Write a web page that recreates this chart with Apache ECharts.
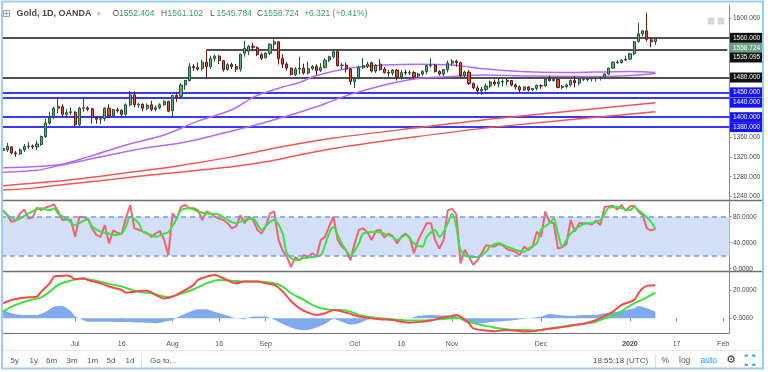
<!DOCTYPE html>
<html><head><meta charset="utf-8">
<script src="https://cdn.jsdelivr.net/npm/echarts@6/dist/echarts.min.js"></script>
<style>html,body{margin:0;padding:0;background:#fff}#c{width:768px;height:372px}</style>
</head><body><div id="c"></div>
<script>
// ---------- categories (trading days, OANDA XAU/USD daily) ----------
const firstDay = '2019-06-06', lastDay = '2020-02-04';
const holidays = ['2019-12-25', '2020-01-01'];
const dates = [];
for (let d = new Date(firstDay + 'T00:00:00Z'); d <= new Date(lastDay + 'T00:00:00Z'); d.setUTCDate(d.getUTCDate() + 1)) {
  const wd = d.getUTCDay(), s = d.toISOString().slice(0, 10);
  if (wd !== 0 && wd !== 6 && holidays.indexOf(s) < 0) dates.push(s);
}
const N = dates.length;

// ---------- time axis labels ----------
const tickDates  = ['2019-07-01','2019-07-16','2019-08-01','2019-08-16','2019-09-02','2019-10-01','2019-10-16','2019-11-01','2019-12-02','2020-01-02','2020-01-17','2020-02-03'];
const tickLabels = ['Jul','16','Aug','16','Sep','Oct','16','Nov','Dec','2020','17','Feb'];

// ---------- price candles [open, high, low, close] ----------
const ohlc = [
[1333,1346,1329,1337],[1334,1348,1330,1341],[1340,1342,1325,1328],[1328,1332,1320,1326],[1326,1337,1324,1334],
[1334,1346,1330,1341],[1341,1350,1336,1342],[1342,1345,1336,1340],[1340,1353,1334,1346],[1345,1363,1342,1361],
[1361,1397,1358,1388],[1388,1411,1385,1400],[1400,1421,1396,1418],[1418,1439,1408,1422],[1421,1426,1402,1406],
[1406,1416,1400,1409],[1409,1420,1404,1411],[1410,1412,1382,1385],[1385,1421,1382,1418],[1418,1438,1411,1419],
[1419,1422,1412,1416],[1417,1419,1387,1399],[1399,1402,1387,1396],[1396,1401,1386,1397],[1397,1420,1392,1418],
[1418,1426,1399,1403],[1403,1417,1402,1415],[1415,1419,1409,1413],[1414,1416,1401,1406],[1406,1428,1403,1425],
[1425,1453,1422,1445],[1445,1452,1420,1425],[1425,1429,1419,1426],[1426,1428,1412,1418],[1418,1428,1414,1424],
[1425,1433,1412,1416],[1416,1424,1412,1419],[1419,1428,1416,1425],[1425,1434,1423,1432],[1432,1433,1410,1412],
[1413,1445,1400,1444],[1444,1449,1431,1441],[1442,1469,1439,1465],[1465,1475,1455,1474],[1474,1509,1472,1502],
[1502,1507,1493,1500],[1500,1510,1494,1497],[1498,1516,1494,1511],[1511,1535.1,1480,1502],[1502,1524,1497,1518],
[1518,1526,1512,1523],[1523,1525,1507,1514],[1514,1515,1492,1496],[1496,1509,1494,1506],[1506,1510,1497,1502],
[1502,1507,1491,1497],[1497,1528,1492,1527],[1529,1554,1522,1539],[1533,1546,1525,1543],[1543,1550,1533,1541],
[1540,1543,1523,1526],[1526,1530,1515,1519],[1520,1531,1518,1529],[1529,1549,1525,1547],[1547,1557,1535,1552],
[1552,1553,1506,1518],[1518,1527,1499,1507],[1507,1511,1494,1499],[1499,1500,1484,1486],[1486,1501,1483,1497],
[1497,1522,1486,1499],[1499,1508,1486,1489],[1489,1512,1486,1498],[1498,1505,1495,1502],[1502,1507,1485,1494],
[1494,1509,1491,1500],[1500,1519,1498,1515],[1515,1524,1511,1522],[1522,1535,1518,1532],[1532,1535,1502,1504],
[1504,1509,1497,1505],[1505,1510,1490,1497],[1497,1499,1465,1472],[1472,1480,1459,1479],[1479,1503,1476,1500],
[1500,1519,1497,1504],[1503,1512,1499,1507],[1510,1512,1490,1493],[1493,1507,1489,1505],[1507,1517,1494,1496],
[1497,1501,1488,1490],[1490,1495,1482,1489],[1489,1497,1484,1495],[1495,1497,1474,1481],[1481,1495,1476,1490],
[1490,1496,1485,1489],[1489,1495,1485,1490],[1490,1493,1478,1482],[1483,1490,1480,1487],[1487,1495,1483,1492],
[1492,1506,1487,1504],[1504,1519,1500,1505],[1505,1507,1490,1492],[1492,1495,1484,1487],[1487,1497,1483,1496],
[1496,1514,1490,1509],[1509,1517,1504,1513],[1513,1516,1502,1510],[1510,1512,1480,1484],[1484,1494,1480,1491],
[1491,1495,1465,1468],[1468,1470,1456,1459],[1459,1464,1446,1453],[1453,1461,1445,1456],[1456,1468,1452,1463],
[1463,1474,1458,1471],[1471,1476,1463,1467],[1468,1478,1460,1471],[1471,1476,1462,1472],[1472,1478,1464,1474],
[1474,1475,1462,1465],[1465,1468,1456,1461],[1461,1464,1450,1455],[1455,1462,1453,1461],[1461,1463,1452,1455],
[1455,1459,1453,1458],[1458,1466,1454,1464],[1464,1466,1457,1463],[1463,1479,1461,1477],[1477,1484,1472,1474],
[1474,1481,1472,1476],[1476,1477,1458,1460],[1460,1465,1456,1462],[1462,1468,1458,1465],[1465,1476,1462,1474],
[1474,1483,1460,1469],[1469,1479,1464,1476],[1476,1480,1473,1476],[1476,1480,1472,1477],[1477,1480,1472,1478],
[1478,1481,1472,1478],[1478,1482,1474,1480],[1480,1488,1477,1487],[1487,1500,1485,1499],[1499,1512,1497,1511],
[1511,1515,1508,1510],[1510,1517,1508,1515],[1515,1524,1514,1517],[1517,1530,1516,1528],[1528,1554,1525,1552],
[1553,1590,1550,1568],[1568,1576,1563,1574],[1574,1611,1553,1557],[1556,1560,1541,1552],[1552.404,1561.102,1545.784,1558.724]
];

// ---------- moving averages on price, [barIndex, value] read at sample bars ----------
const maPurpleA = [[0,1298],[13,1304],[20,1320],[29,1344],[38,1364],[46,1392],[54,1415],[59,1440],[62,1450],[66,1461],[70,1470],[74,1484],[82,1499],[90,1505],[98,1507],[106,1505],[114,1497],[122,1492],[132,1490],[140,1491],[148,1492],[154,1490]];
const maPurpleB = [[0,1289],[8,1293],[13,1302],[31,1334],[43,1350],[59,1383],[62,1390],[66,1400],[70,1410],[74,1421],[78,1434],[82,1446],[90,1465],[98,1478],[106,1482],[113,1485],[124,1483],[136,1482],[146,1483],[154,1488]];
const maRedA = [[0,1262],[7,1267],[15,1273],[23,1281],[31,1290],[40,1300],[54,1320],[62,1334],[70,1347],[78,1358],[97,1378],[117,1398],[154,1429]];
const maRedB = [[0,1253],[7,1257],[15,1265],[23,1272],[31,1280],[39,1287],[54,1300],[62,1310],[70,1324],[78,1337],[97,1360],[117,1381],[154,1411]];

// ---------- horizontal levels ----------
const blackLevels = [1560, 1480];
const blueLevels = [1450, 1440, 1400, 1380];
const rayStart = '2019-08-13', rayLevel = 1535.095;
const priceTicks = [1600, 1360, 1320, 1280, 1240];
const tagValues = [1560, 1558.724, 1535.095, 1480, 1450, 1440, 1400, 1380];

// ---------- RSI pane ----------
const rsi = [
90,82,72,74,85,91,77,79,94,90, 94,96,99,88,75,76,75,49,80,79,
77,62,52,49,67,39,59,55,54,78, 98,62,60,57,55,49,54,58,45,21,
85,77,95,98,93,93,90,75,88,85, 80,77,75,70,62,65,82,70,80,75,
60,54,65,85,88,45,28,18,3,18, 13,21,18,24,18,44,49,65,80,44,
34,28,13,39,60,62,56,44,58,60, 48,54,50,39,49,54,48,24,44,57,
70,70,44,31,44,90,92,84,8,29, 18,6,13,24,36,35,34,38,36,30,
28,26,21,34,29,34,57,49,88,72, 70,31,33,38,75,57,70,70,70,68,
74,67,95,96,97,91,98,89,96,97, 88,82,62,59,61];
const rsiMA = [[0,88],[2,78],[3,75],[6,85],[9,93],[11,90],[12,93],[13,85],[15,77],[17,67],[18,70],[20,76],[21,65],[23,57],[25,54],[26,52],[28,54],[29,65],[30,80],[32,70],[33,57],[35,52],[36,49],[38,54],[39,56],[41,77],[42,90],[44,93],[46,88],[48,85],[51,83],[53,75],[55,70],[57,75],[59,77],[61,60],[63,72],[64,75],[66,54],[67,24],[69,13],[71,16],[73,18],[75,21],[76,36],[77,55],[78,64],[79,52],[80,38],[81,28],[82,20],[84,39],[85,54],[88,57],[90,54],[92,49],[93,44],[95,52],[97,39],[99,34],[100,49],[102,59],[103,49],[105,70],[106,85],[107,65],[108,29],[110,18],[112,18],[114,26],[115,34],[117,39],[119,34],[121,29],[123,26],[124,31],[126,39],[127,60],[129,70],[130,77],[131,54],[132,34],[133,44],[134,54],[136,65],[138,70],[139,70],[141,75],[142,84],[143,94],[145,95],[146,93],[148,90],[149,95],[150,90],[151,85],[153,72],[154,61]];
const rsiTicks = [0, 40, 80];
const rsiBand = [20, 80];

// ---------- MACD pane ----------
const macdLine = [[0,10.6],[2,13],[4,14.1],[6,14.8],[8,15.3],[9,18.8],[11,24.7],[12,29.4],[13,29.9],[15,30.2],[16,29.4],[17,27.6],[19,28.3],[20,27.1],[23,24.7],[25,22.4],[28,20],[29,18.1],[31,18.8],[33,19.5],[34,19.5],[36,16.5],[38,14],[40,15.3],[43,20],[45,23.6],[46,27.1],[48,29.4],[50,30.6],[52,28.3],[55,24.7],[57,25.9],[60,25.9],[62,24.7],[64,23.6],[66,19],[68,12],[70,7],[72,4],[74,2.4],[76,3.5],[78,5.9],[80,4.7],[82,3.1],[84,1.2],[87,0],[89,-0.7],[92,-1.2],[94,-2.4],[96,-3.1],[99,-2.4],[101,-1.6],[103,0],[106,1.7],[107,2.4],[108,1.2],[110,-3.5],[111,-7.1],[114,-8.7],[116,-9.2],[119,-8.2],[121,-8.7],[123,-9.4],[126,-8.7],[128,-7.8],[130,-7.1],[133,-5.9],[135,-4.7],[138,-3.1],[140,-1.2],[142,1.7],[144,4.7],[146,9.4],[149,13],[150,17.7],[151,21.2],[152,22.9],[154,23.3]];
const signalLine = [[0,4.7],[2,8.2],[4,10.6],[6,12.5],[9,14.8],[11,18.8],[13,23.6],[16,26.6],[18,28],[20,27.6],[23,25.9],[25,24.3],[28,22.4],[30,20.5],[32,18.8],[35,17.7],[37,16],[39,15],[41,16.5],[45,20.5],[48,24.7],[51,27.1],[54,26.6],[57,25.9],[60,25.9],[64,24.7],[66,22.4],[68,17.7],[71,13],[73,9.4],[75,7.1],[78,5.9],[80,5.9],[82,4.7],[84,2.4],[87,0.7],[89,0],[92,-0.7],[94,-1.2],[96,-1.6],[99,-1.6],[101,-1.2],[103,-0.7],[106,0],[108,0],[110,-2.4],[113,-4.7],[115,-5.9],[117,-7.1],[119,-7.8],[121,-8.2],[123,-8.2],[126,-8.7],[128,-7.8],[131,-6.4],[133,-5.4],[135,-4.7],[138,-3.5],[140,-2.4],[142,0],[145,3.1],[147,7.1],[149,10.6],[152,14.8],[154,18.1]];
const macdHist = [[0,5.9],[2,3.5],[4,2.4],[8,2.4],[10,4.5],[12,8.2],[14,8.7],[16,5],[17,1.5],[18,0],[20,-2.4],[24,-2.4],[28,-2.6],[32,-3],[36,-3.5],[38,-2.4],[40,-1.2],[42,2],[44,4.5],[46,6.4],[48,6.4],[50,4.5],[53,2],[55,0],[57,-0.7],[59,1.2],[62,1.2],[64,-1],[66,-4],[68,-6.5],[70,-8.2],[72,-8.2],[74,-6.5],[76,-4],[78,-0.5],[80,-2.4],[82,-4.5],[84,-3.5],[86,-1],[88,0],[96,0],[98,1.7],[101,2.4],[104,2],[107,1.5],[108,-1],[110,-3.5],[113,-3.5],[116,-2.5],[120,-1.5],[124,0],[127,1.2],[129,3.1],[131,2.4],[134,1.7],[137,2.4],[140,2.4],[142,3.5],[145,4.7],[147,5.9],[149,7.1],[150,8.7],[152,7.1],[154,4.7]];
const macdTicks = [0, 20];

// ---------- header texts ----------
const symbolTitle = 'Gold, 1D, OANDA';
const legendKeys = ['O', 'H', 'L', 'C'];
const legendVals = ['1552.404', '1561.102', '1545.784', '1558.724'];
const changeText = '+6.321 (+0.41%)';
const rangeButtons = ['5y', '1y', '6m', '3m', '1m', '5d', '1d'];
const clockText = '18:55:18 (UTC)';

// ================= build =================
const FONT = "'Liberation Sans', Arial, sans-serif";
function dense(pairs) { const a = new Array(N).fill(null); pairs.forEach(p => { a[p[0]] = p[1]; }); return a; }
const isTick = (i, v) => tickDates.indexOf(v) >= 0;

const GL = 1, GR = 38.5;
const xAxes = [0, 1, 2].map(i => ({
  type: 'category', gridIndex: i, data: dates, boundaryGap: true,
  axisLine: { show: false },
  axisTick: { show: i === 2, alignWithLabel: true, interval: isTick, length: 3, lineStyle: { color: '#888' } },
  axisLabel: { show: i === 2, interval: isTick, margin: 8, fontSize: 7, color: '#555', fontFamily: FONT,
    formatter: v => { const t = tickLabels[tickDates.indexOf(v)]; return t === '2020' ? '{b|2020}' : t; },
    rich: { b: { fontWeight: 'bold', fontSize: 7, color: '#444', fontFamily: FONT } } },
  splitLine: { show: false }
}));
function yAx(i, min, max, ticks, fmt) {
  return { type: 'value', gridIndex: i, position: 'right', min: min, max: max,
    axisLine: { show: true, lineStyle: { color: '#8a8a8a' } },
    axisTick: { show: true, length: 2, customValues: ticks, lineStyle: { color: '#8a8a8a' } },
    axisLabel: { customValues: ticks, formatter: fmt, fontSize: 6.5, color: '#444', margin: 3.5, fontFamily: FONT },
    splitLine: { show: false } };
}
const lvlLines = [];
blackLevels.forEach(v => lvlLines.push({ yAxis: v, lineStyle: { color: '#505050', width: 2, type: 'solid' } }));
blueLevels.forEach(v => lvlLines.push({ yAxis: v, lineStyle: { color: '#3838f8', width: 2, type: 'solid' } }));
lvlLines.push([{ coord: [rayStart, rayLevel], lineStyle: { color: '#505050', width: 2, type: 'solid' } }, { coord: [dates[N - 1], rayLevel] }]);

function maSeries(pairs, color) {
  return { type: 'line', xAxisIndex: 0, yAxisIndex: 0, data: dense(pairs), connectNulls: true, smooth: 0.3,
    showSymbol: false, silent: true, z: 3, lineStyle: { color: color, width: 1.5 } };
}

const option = {
  animation: false, backgroundColor: '#ffffff',
  grid: [
    { left: GL, right: GR, top: 5, height: 195 },
    { left: GL, right: GR, top: 200, height: 71 },
    { left: GL, right: GR, top: 271, height: 62 }
  ],
  xAxis: xAxes,
  yAxis: [
    yAx(0, 1233.06, 1626.21, priceTicks, v => v.toFixed(3)),
    yAx(1, -3.5, 105.7, rsiTicks, v => v.toFixed(4)),
    yAx(2, -10.4, 33.4, macdTicks, v => v.toFixed(4))
  ],
  series: [
    maSeries(maRedA, '#f65454'), maSeries(maRedB, '#f65454'),
    maSeries(maPurpleB, '#b36af3'), maSeries(maPurpleA, '#b36af3'),
    { type: 'candlestick', xAxisIndex: 0, yAxisIndex: 0, barWidth: 2.6, z: 4,
      data: ohlc.map(r => [r[0], r[3], r[2], r[1]]),
      itemStyle: { color: '#6ba583', color0: '#d75442', borderColor: '#225437', borderColor0: '#5b1a13', borderWidth: 1 },
      markLine: { silent: true, symbol: ['none', 'none'], label: { show: false }, data: lvlLines, z: 2 } },
    { type: 'line', xAxisIndex: 1, yAxisIndex: 1, data: rsi, showSymbol: false, silent: true, z: 3,
      lineStyle: { color: '#ef5566', width: 2, opacity: 0.9 },
      markArea: { silent: true, itemStyle: { color: '#d2dff7' }, data: [[{ yAxis: rsiBand[0] }, { yAxis: rsiBand[1] }]] },
      markLine: { silent: true, symbol: ['none', 'none'], label: { show: false },
        lineStyle: { color: '#6f9cf0', width: 1.5, type: [5, 4] }, data: [{ yAxis: rsiBand[1] }, { yAxis: rsiBand[0] }] } },
    { type: 'line', xAxisIndex: 1, yAxisIndex: 1, data: dense(rsiMA), connectNulls: true, smooth: 0.3, showSymbol: false, silent: true, z: 4,
      lineStyle: { color: '#40e040', width: 2 } },
    { type: 'line', xAxisIndex: 2, yAxisIndex: 2, data: dense(macdHist), connectNulls: true, smooth: 0.2, showSymbol: false, silent: true, z: 2,
      lineStyle: { width: 0, color: '#78a5ef' }, areaStyle: { color: '#78a5ef', opacity: 0.95 } },
    { type: 'line', xAxisIndex: 2, yAxisIndex: 2, data: dense(signalLine), connectNulls: true, smooth: 0.3, showSymbol: false, silent: true, z: 3,
      lineStyle: { color: '#3ee03e', width: 2 } },
    { type: 'line', xAxisIndex: 2, yAxisIndex: 2, data: dense(macdLine), connectNulls: true, smooth: 0.3, showSymbol: false, silent: true, z: 4,
      lineStyle: { color: '#ff4747', width: 2 } }
  ]
};

const chart = echarts.init(document.getElementById('c'), null, { renderer: 'canvas' });
chart.setOption(option);

// ----- decorations -----
function txt(x, y, s, fill, size, weight, align) {
  return { type: 'text', z: 120, x: x, y: y, silent: true,
    style: { text: s, fill: fill, font: (weight || 'normal') + ' ' + size + 'px ' + FONT,
      textAlign: align || 'left', textVerticalAlign: 'middle', align: align || 'left', verticalAlign: 'middle' } };
}
function ln(x1, y1, x2, y2, c, w) {
  return { type: 'line', z: 110, silent: true, shape: { x1: x1, y1: y1, x2: x2, y2: y2 }, style: { stroke: c, lineWidth: w } };
}
const g = [];
// pane separators & borders
g.push(ln(3, 200.5, 762, 200.5, '#707070', 1.5));
g.push(ln(3, 271.5, 762, 271.5, '#707070', 1.5));
g.push(ln(3, 333.5, 729.5, 333.5, '#707070', 1));
g.push(ln(3, 350.5, 762, 350.5, '#e3e5ea', 1));
// header legend
g.push({ type: 'rect', z: 120, silent: true, shape: { x: 3.5, y: 10.5, width: 6, height: 6 }, style: { fill: 'none', stroke: '#9a9a9a', lineWidth: 1 } });
g.push(ln(6.5, 11.5, 6.5, 15.5, '#9a9a9a', 1)); g.push(ln(4.5, 13.5, 8.5, 13.5, '#9a9a9a', 1));
g.push(txt(16.5, 14, symbolTitle, '#4a4a4a', 9, 'bold'));
g.push(txt(97, 14, '▾', '#b0b0b0', 7));
const keyX = [112.5, 161, 210, 257];
legendKeys.forEach((k, i) => { g.push(txt(keyX[i], 14, k, '#555', 8.5)); g.push(txt(keyX[i] + 6.5, 14, legendVals[i], '#3f9a63', 8.5)); });
g.push(txt(304, 14, changeText, '#3f9a63', 8.5));
// top right mini icons
[707.5, 717.5].forEach(x => {
  g.push({ type: 'rect', z: 120, silent: true, shape: { x: x, y: 17.5, width: 7, height: 7 }, style: { fill: '#d8d8d8' } });
  g.push(ln(x + 3.5, 19, x + 3.5, 22, '#ffffff', 1.2));
  g.push(ln(x + 3.5, 23, x + 3.5, 23.6, '#ffffff', 1.2));
});
// bottom toolbar
const btnX = [10.5, 29.5, 46, 66.5, 87, 106.5, 125.5];
rangeButtons.forEach((b, i) => g.push(txt(btnX[i], 361, b, '#555', 8)));
g.push(ln(141.5, 354, 141.5, 368, '#e0e0e0', 1));
g.push(txt(150, 361, 'Go to...', '#555', 8));
g.push(txt(593, 361, clockText, '#555', 8));
g.push(ln(655.5, 354, 655.5, 368, '#e0e0e0', 1));
g.push(txt(661.5, 361, '%', '#555', 8.5));
g.push(txt(679, 361, 'log', '#555', 8.5));
g.push(txt(700.5, 361, 'auto', '#2196f3', 8.5));
g.push({ type: 'text', z: 120, x: 731, y: 360.5, silent: true, style: { text: '⚙', fill: '#333', font: "11px 'DejaVu Sans'", textAlign: 'center', textVerticalAlign: 'middle', align: 'center', verticalAlign: 'middle' } });
[[745.5, 357, 745.5, 355.5, 748, 355.5], [754.5, 357, 754.5, 355.5, 752, 355.5], [745.5, 363.5, 745.5, 365, 748, 365], [754.5, 363.5, 754.5, 365, 752, 365]].forEach(p => {
  g.push({ type: 'polyline', z: 120, silent: true, shape: { points: [[p[0], p[1]], [p[2], p[3]], [p[4], p[5]]] }, style: { stroke: '#2196f3', lineWidth: 1.5, fill: 'none' } });
});
// price-scale tags (TradingView pushes overlapping tags apart)
const tagText = ['1560.000', '1558.724', '1535.095', '1480.000', '1450.000', '1440.000', '1400.000', '1380.000'];
const tagFill = ['#111111', '#6ba583', '#111111', '#111111', '#1515ff', '#1515ff', '#1515ff', '#1515ff'];
const tagShift = [0, 9.4, 7.3, 0, 0, 5.3, 0, 0];
tagValues.forEach((v, i) => {
  const y = chart.convertToPixel({ yAxisIndex: 0 }, v) + tagShift[i];
  g.push({ type: 'rect', z: 125, silent: true, shape: { x: 730, y: y - 5, width: 32, height: 10 }, style: { fill: tagFill[i] } });
  g.push(Object.assign(txt(733, y, tagText[i], '#ffffff', 6.5), { z: 126 }));
});
// widget frame
g.push({ type: 'rect', z: 130, silent: true, shape: { x: 2, y: 1.5, width: 761, height: 367 }, style: { fill: 'none', stroke: '#9ccbf4', lineWidth: 2 } });
chart.setOption({ graphic: g });
</script></body></html>
